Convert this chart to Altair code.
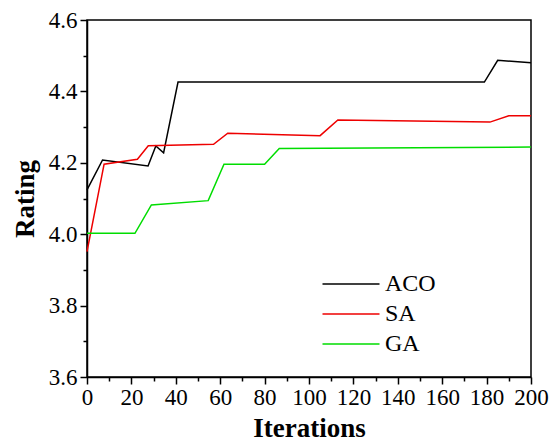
import altair as alt
import pandas as pd

series = ["ACO", "SA", "GA"]
colors = ["#000000", "#ee0000", "#00dd00"]

aco_x = [0, 7, 27.5, 31, 34.5, 41, 179, 185, 200]
aco_y = [4.124, 4.208, 4.191, 4.247, 4.228, 4.426, 4.426, 4.487, 4.480]

sa_x = [0, 7.7, 22.7, 27.6, 57, 63.4, 105, 113, 181.5, 190, 200]
sa_y = [3.951, 4.196, 4.21, 4.248, 4.252, 4.283, 4.276, 4.32, 4.314, 4.332, 4.332]

ga_x = [0, 21.6, 29, 54.6, 61.7, 80, 86.6, 200]
ga_y = [4.0025, 4.0025, 4.082, 4.094, 4.196, 4.196, 4.24, 4.244]

x_ticks = [0, 10, 20, 30, 40, 50, 60, 70, 80, 90, 100, 110, 120, 130, 140, 150, 160, 170, 180, 190, 200]
y_ticks = [3.6, 3.7, 3.8, 3.9, 4.0, 4.1, 4.2, 4.3, 4.4, 4.5, 4.6]

rows = []
for name, xs, ys in [("ACO", aco_x, aco_y), ("SA", sa_x, sa_y), ("GA", ga_x, ga_y)]:
    for i, (xv, yv) in enumerate(zip(xs, ys)):
        rows.append({"Algorithm": name, "Iterations": xv, "Rating": yv, "order": i})
df = pd.DataFrame(rows)

FONT = "Liberation Serif"
xscale = alt.Scale(domain=[0, 200], nice=False)
yscale = alt.Scale(domain=[3.6, 4.6], nice=False)

x_major = "round(datum.value) % 20 === 0"
y_major = "round(datum.value * 10) % 2 === 0"

color = alt.Color(
    "Algorithm:N",
    sort=series,
    scale=alt.Scale(domain=series, range=colors),
    legend=alt.Legend(
        title=None, orient="none", legendX=252, legendY=252,
        symbolType="M-3,0H3", symbolSize=361, symbolStrokeWidth=1.5,
        labelFont=FONT, labelFontSize=24, labelColor="#000000",
        labelOffset=22, rowPadding=6, padding=0,
    ),
)

chart = alt.Chart(df).mark_line(strokeWidth=1.5).encode(
    x=alt.X("Iterations:Q", scale=xscale, axis=alt.Axis(
        values=x_ticks, title="Iterations", grid=False,
        labelExpr=f"{x_major} ? format(datum.value, 'd') : ''",
        labelFont=FONT, labelFontSize=23, labelColor="#000000", labelPadding=2,
        labelFlush=False, labelOverlap=False,
        tickSize={"condition": {"test": x_major, "value": 7}, "value": 4},
        titleFont=FONT, titleFontSize=27, titleFontWeight="bold",
        titleColor="#000000", titlePadding=6,
    )),
    y=alt.Y("Rating:Q", scale=yscale, axis=alt.Axis(
        values=y_ticks, title="Rating", grid=False,
        labelExpr=f"{y_major} ? format(datum.value, '.1f') : ''",
        labelFont=FONT, labelFontSize=23, labelColor="#000000", labelPadding=3,
        labelFlush=False, labelOverlap=False,
        tickSize={"condition": {"test": y_major, "value": 7}, "value": 4},
        titleFont=FONT, titleFontSize=27, titleFontWeight="bold",
        titleColor="#000000", titlePadding=9,
    )),
    color=color,
    order="order:Q",
).properties(
    width=444, height=357,
    background="white",
    autosize=alt.AutoSizeParams(type="none"),
    padding={"left": 87, "top": 20, "right": 19, "bottom": 67},
).configure_view(
    stroke="#000000", strokeWidth=1.5,
).configure_axis(
    grid=False, domainColor="#000000", domainWidth=1.5,
    tickColor="#000000", tickWidth=1.5,
)

chart.save("out.html", embed_options={"renderer": "svg", "actions": False})
